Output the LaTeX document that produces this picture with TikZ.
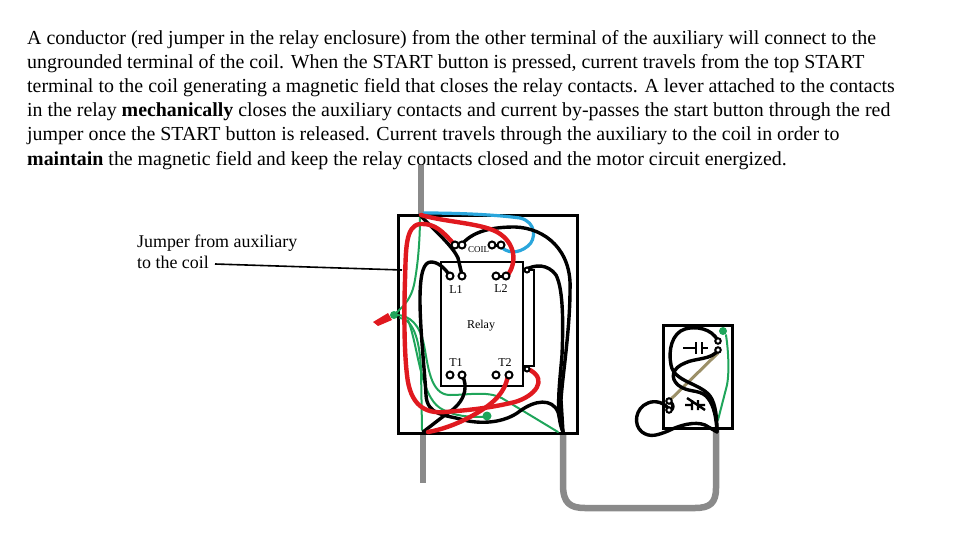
\documentclass[tikz,border=0pt]{standalone}
\usepackage{fontspec}
\setmainfont{Liberation Serif}
\tikzset{
 x=1pt,y=-1pt,
 para/.style={anchor=base west,inner sep=0,font=\fontsize{19.9}{22}\selectfont},
 lab/.style={anchor=base,inner sep=0,font=\fontsize{12}{14}\selectfont},
 jlab/.style={anchor=base west,inner sep=0,font=\fontsize{17.9}{20}\selectfont},
 blk/.style={draw=black,line width=3.4pt,line cap=round,line join=round},
 redw/.style={draw=wred,line width=4.4pt,line cap=round,line join=round},
 grn/.style={draw=wgreen,line width=2pt,line cap=round,line join=round},
 blu/.style={draw=wblue,line width=3.2pt,line cap=round,line join=round},
 conduit/.style={draw=wgray,line width=6.5pt,line join=round},
 term/.style={circle,draw=black,fill=white,line width=2pt,minimum size=7pt,inner sep=0},
}
\definecolor{wred}{HTML}{E0191F}
\definecolor{wgreen}{HTML}{1FA55A}
\definecolor{wblue}{HTML}{2AA6DC}
\definecolor{wgray}{HTML}{8A8A8A}
\definecolor{wbrown}{HTML}{9C9068}
\begin{document}
\begin{tikzpicture}
\useasboundingbox (0,0) rectangle (960,540);
% paragraph
\node[para] (p1) at (27,45) {A conductor (red jumper in the relay enclosure) from the other terminal of the auxiliary will connect to the};
\node[para] (p2) at (27,69) {ungrounded terminal of the coil. When the START button is pressed, current travels from the top START};
\node[para] (p3) at (27,93) {terminal to the coil generating a magnetic field that closes the relay contacts. A lever attached to the contacts};
\node[para] (p4) at (27,117) {in the relay \textbf{mechanically} closes the auxiliary contacts and current by-passes the start button through the red};
\node[para] (p5) at (27,141) {jumper once the START button is released. Current travels through the auxiliary to the coil in order to};
\node[para] (p6) at (27,165) {\textbf{maintain} the magnetic field and keep the relay contacts closed and the motor circuit energized.};
% conduits
\draw[conduit] (421,165) -- (421,215);
\draw[conduit] (423,433) -- (423,483);
\draw[conduit] (563,433) -- (563,485) .. controls (563,503) and (570,508) .. (585,508) -- (695,508) .. controls (710,508) and (716,503) .. (716,488) -- (716,430);
% boxes
\node[draw=black,line width=3pt,minimum width=179pt,minimum height=218pt,inner sep=0] (encl) at (487.5,324) {};
\node[draw=black,line width=2.4pt,minimum width=82pt,minimum height=124pt,inner sep=0] (relay) at (482,324) {};
\node[draw=black,line width=2.2pt,minimum width=11pt,minimum height=96pt,inner sep=0] (aux) at (528.5,318) {};
\node[draw=black,line width=3pt,minimum width=69pt,minimum height=103pt,inner sep=0] (ctrl) at (697.5,376.5) {};
% green wires
\draw[grn] (420,215) .. controls (420,240) and (418,265) .. (414,285) .. controls (411,298) and (405,305) .. (396,313);
\draw[grn] (396,315) .. controls (410,315) and (420,325) .. (424,345) .. controls (428,365) and (430,395) .. (450,395) .. controls (470,395) and (490,390) .. (505,400) -- (558,432);
\draw[grn] (400,318) .. controls (415,320) and (420,345) .. (421,370) -- (422,430);
\draw[grn] (408,320) .. controls (418,345) and (420,395) .. (440,408) .. controls (455,417) and (470,417) .. (487,417);
\fill[wgreen] (487,416) circle (4.5);
\fill[wgreen] (394,315) circle (4);
% blue
\draw[blu] (424,213) .. controls (450,213) and (490,214) .. (520,218) .. controls (537,222) and (536,240) .. (528,246) .. controls (518,254) and (507,254) .. (499,245);
% black wires
\draw[blk] (420,215) .. controls (432,228) and (452,245) .. (458,258) -- (462,275);
\draw[blk] (463,243) .. controls (475,230) and (495,227) .. (515,227) .. controls (545,228) and (572,250) .. (570,290) .. controls (570,330) and (562,380) .. (561,400) -- (563,432);
\draw[blk] (450,276) .. controls (445,268) and (438,262) .. (431,262) .. controls (424,262) and (420,272) .. (420,300) .. controls (420,330) and (425,375) .. (426,395) .. controls (427,415) and (445,415) .. (460,419) .. controls (480,425) and (505,423) .. (520,411) .. controls (535,400) and (552,398) .. (558,412) -- (563,432);
\draw[blk] (525,270) .. controls (535,264) and (548,264) .. (556,275) .. controls (564,290) and (563,330) .. (562,355) .. controls (560,380) and (555,415) .. (563,432);
\draw[blk] (462,375) .. controls (470,390) and (462,405) .. (445,415) -- (423,432);
% red wires
\draw[redw] (421,215) .. controls (445,222) and (480,223) .. (497,232) .. controls (515,242) and (518,262) .. (507,276);
\draw[redw] (453,243) .. controls (443,232) and (435,223) .. (420,224) .. controls (405,226) and (406,250) .. (405,280) .. controls (404,310) and (404,350) .. (407,375) .. controls (410,405) and (425,414) .. (445,412) .. controls (470,410) and (490,408) .. (515,402) .. controls (535,396) and (548,380) .. (530,370);
\draw[redw] (508,375) .. controls (505,395) and (490,406) .. (470,417) .. controls (455,425) and (440,430) .. (428,432);
% wire nut
\fill[wred] (373,322) -- (388,313) -- (392,320) -- (378,326) -- cycle;
% terminals
\draw[line width=3pt] (455,245) -- (462,245);
\draw[line width=3pt] (492,245) -- (501,245);
\draw[line width=3pt] (496,276) -- (506,276);
\node[term] (c1) at (455,245) {};
\node[term] (c2) at (462,245) {};
\node[term] (c3) at (492,245) {};
\node[term] (c4) at (501,245) {};
\node[term] (l1a) at (450,276) {};
\node[term] (l1b) at (462,276) {};
\node[term] (l2a) at (496,276) {};
\node[term] (l2b) at (506,276) {};
\node[term] (t1a) at (450,375) {};
\node[term] (t1b) at (462,375) {};
\node[term] (t2a) at (496,375) {};
\node[term] (t2b) at (509,375) {};
\node[term,minimum size=5pt] (a1) at (527,270) {};
\node[term,minimum size=5pt] (a2) at (527,369) {};
% labels
\node[inner sep=0,font=\fontsize{9}{10}\selectfont] (coil) at (478.5,249.5) {COIL};
\node[lab] (L1) at (456,293.5) {L1};
\node[lab] (L2) at (501,292.5) {L2};
\node[lab] (rl) at (481,328) {Relay};
\node[lab] (T1) at (456,366.5) {T1};
\node[lab] (T2) at (505,366.5) {T2};
\node[jlab] (j1) at (137,247.5) {Jumper from auxiliary};
\node[jlab] (j2) at (137,268.5) {to the coil};
\coordinate (js) at (215,264);
\draw[black,line width=1.6pt] (js) -- (402,270);
% control station
\draw[wgreen,line width=2pt,line cap=round] (726,335) .. controls (729,355) and (729,375) .. (727,385) -- (718,420);
\fill[wgreen] (723,331) circle (4);
\draw[wbrown,line width=3pt] (718,353) -- (668,402);
\draw[blk] (718,341) .. controls (712,328) and (695,326) .. (685,329) .. controls (672,333) and (668,350) .. (671,365) .. controls (674,382) and (700,383) .. (710,396) .. controls (716,404) and (717,420) .. (717,432);
\draw[blk] (718,350) .. controls (712,360) and (695,358) .. (685,363) .. controls (672,368) and (670,378) .. (678,385) .. controls (688,393) and (698,389) .. (706,396) .. controls (712,402) and (716,412) .. (717,432);
\draw[blk] (670,402) .. controls (674,404) and (674,409) .. (670,411) .. controls (665,402) and (655,400) .. (648,403) .. controls (635,408) and (633,425) .. (642,432) .. controls (650,438) and (658,435) .. (668,431) .. controls (680,425) and (695,421) .. (705,425) -- (717,432);
\node[term,minimum size=5.5pt] (k1) at (718,341) {};
\node[term,minimum size=5.5pt] (k2) at (718,350) {};
\node[term,minimum size=5.5pt] (k3) at (669,401) {};
\node[term,minimum size=5.5pt] (k4) at (669,410) {};
\draw[line width=2.4pt] (683,348) -- (696,348) (696,342) -- (696,354) (702,342) -- (702,354) (702,348) -- (708,348);
\draw[line width=2.4pt] (685,405) -- (692,405) (692,400) -- (692,410) (698,400) -- (698,410) (698,405) -- (705,405) (687,398) -- (705,410);
\end{tikzpicture}
\end{document}
